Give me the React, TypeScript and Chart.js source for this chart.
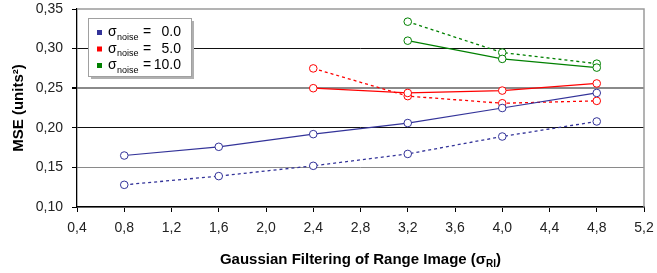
import React, { useEffect, useRef } from "react";
import { Chart, registerables } from "chart.js";
Chart.register(...registerables);

const X_NOISE0 = [0.8, 1.6, 2.4, 3.2, 4.0, 4.8];
const X_NOISE5 = [2.4, 3.2, 4.0, 4.8];
const X_NOISE10 = [3.2, 4.0, 4.8];
const noise0Solid = [0.165, 0.176, 0.192, 0.206, 0.225, 0.244];
const noise0Dotted = [0.128, 0.139, 0.152, 0.167, 0.189, 0.208];
const noise5Solid = [0.25, 0.244, 0.247, 0.256];
const noise5Dotted = [0.275, 0.24, 0.231, 0.234];
const noise10Solid = [0.31, 0.287, 0.276];
const noise10Dotted = [0.334, 0.295, 0.281];
const legendValues = ["0.0", "5.0", "10.0"];
const COLORS = ["#333399", "#FF0000", "#008000"];
const Y_TITLE = "MSE (units²)";
const X_TITLE = "Gaussian Filtering of Range Image (σ";
const X_TITLE_SUB = "RI";

const FONT = "'Liberation Sans', Arial, sans-serif";

const pts = (xs: number[], ys: number[]) => xs.map((x, i) => ({ x, y: ys[i] }));

const mk = (xs: number[], ys: number[], color: string, dotted: boolean) => ({
  data: pts(xs, ys),
  borderColor: color,
  backgroundColor: "#ffffff",
  borderWidth: dotted ? 1.3 : 1.2,
  borderDash: dotted ? [3, 3] : [],
  pointRadius: 3.8,
  pointBorderWidth: 1,
  pointBackgroundColor: "#ffffff",
  pointBorderColor: color,
  showLine: true,
  tension: 0,
});

const decorPlugin = {
  id: "decor",
  beforeDatasetsDraw(chart: any) {
    const { ctx, chartArea: a } = chart;
    ctx.save();
    ctx.strokeStyle = "#9a9a9a";
    ctx.lineWidth = 1.5;
    ctx.beginPath();
    ctx.moveTo(a.left, a.top);
    ctx.lineTo(a.right, a.top);
    ctx.lineTo(a.right, a.bottom);
    ctx.stroke();
    ctx.restore();
  },
  afterDraw(chart: any) {
    const { ctx, chartArea: a } = chart;
    ctx.save();
    ctx.fillStyle = "#000";
    ctx.font = `bold 15px ${FONT}`;
    ctx.textAlign = "center";
    ctx.textBaseline = "middle";
    ctx.translate(19, (a.top + a.bottom) / 2);
    ctx.rotate(-Math.PI / 2);
    ctx.fillText(Y_TITLE, 0, 0);
    ctx.restore();

    ctx.save();
    ctx.fillStyle = "#000";
    ctx.textBaseline = "alphabetic";
    ctx.textAlign = "left";
    const mainFont = `bold 15px ${FONT}`;
    const subFont = `bold 10px ${FONT}`;
    ctx.font = mainFont;
    const w1 = ctx.measureText(X_TITLE).width;
    ctx.font = subFont;
    const w2 = ctx.measureText(X_TITLE_SUB).width;
    ctx.font = mainFont;
    const w3 = ctx.measureText(")").width;
    const total = w1 + w2 + w3;
    const x0 = (a.left + a.right) / 2 - total / 2;
    const by = 264;
    ctx.fillText(X_TITLE, x0, by);
    ctx.font = subFont;
    ctx.fillText(X_TITLE_SUB, x0 + w1, by + 3);
    ctx.font = mainFont;
    ctx.fillText(")", x0 + w1 + w2, by);
    ctx.restore();

    ctx.save();
    const lx = 88, ly = 18, lw = 103, lh = 58;
    ctx.fillStyle = "#b0b0b0";
    ctx.fillRect(lx + 3, ly + 3, lw, lh);
    ctx.fillStyle = "#ffffff";
    ctx.fillRect(lx, ly, lw, lh);
    ctx.strokeStyle = "#a0a0a0";
    ctx.lineWidth = 1;
    ctx.strokeRect(lx + 0.5, ly + 0.5, lw, lh);
    const rows = [32.5, 49, 65.5];
    rows.forEach((cy, i) => {
      ctx.fillStyle = COLORS[i];
      ctx.fillRect(97, cy - 2.5, 5, 5);
      ctx.fillStyle = "#000";
      ctx.textBaseline = "middle";
      ctx.textAlign = "left";
      ctx.font = `14px ${FONT}`;
      ctx.fillText("σ", 108, cy);
      ctx.font = `9px ${FONT}`;
      ctx.fillText("noise", 117, cy + 5);
      ctx.font = `14px ${FONT}`;
      ctx.fillText("=", 143, cy);
      ctx.textAlign = "right";
      ctx.fillText(legendValues[i], 181, cy);
    });
    ctx.restore();
  },
};

export default function App() {
  const ref = useRef<HTMLCanvasElement>(null);
  useEffect(() => {
    if (!ref.current) return;
    const chart = new Chart(ref.current, {
      type: "scatter",
      data: {
        datasets: [
          mk(X_NOISE0, noise0Solid, COLORS[0], false),
          mk(X_NOISE0, noise0Dotted, COLORS[0], true),
          mk(X_NOISE5, noise5Solid, COLORS[1], false),
          mk(X_NOISE5, noise5Dotted, COLORS[1], true),
          mk(X_NOISE10, noise10Solid, COLORS[2], false),
          mk(X_NOISE10, noise10Dotted, COLORS[2], true),
        ] as any,
      },
      options: {
        animation: false,
        responsive: false,
        maintainAspectRatio: false,
        layout: { padding: { left: 0, right: 13, top: 9, bottom: 0 } },
        plugins: { legend: { display: false }, tooltip: { enabled: false }, title: { display: false } },
        scales: {
          x: {
            type: "linear",
            min: 0.4,
            max: 5.2,
            afterFit: (s: any) => { s.height = 66; s.paddingLeft = 0; s.paddingRight = 0; },
            ticks: {
              stepSize: 0.4,
              padding: 8,
              color: "#222",
              font: { family: FONT, size: 14 },
              callback: (v: any) => Number(v).toFixed(1).replace(".", ","),
            },
            grid: { drawOnChartArea: false, drawTicks: true, tickLength: 5, tickColor: "#000" },
            border: { color: "#000", width: 1.3 },
          },
          y: {
            type: "linear",
            min: 0.1,
            max: 0.35,
            afterFit: (s: any) => { s.width = 77; s.paddingTop = 0; s.paddingBottom = 0; },
            ticks: {
              stepSize: 0.05,
              padding: 9,
              color: "#222",
              font: { family: FONT, size: 14 },
              callback: (v: any) => Number(v).toFixed(2).replace(".", ","),
            },
            grid: {
              drawTicks: true,
              tickLength: 5,
              tickColor: "#000",
              color: (c: any) => {
                const v = Math.round((c.tick?.value ?? 0) * 100);
                if (v === 30 || v === 20) return "#111";
                if (v === 35) return "rgba(0,0,0,0)";
                return "#8a8a8a";
              },
              lineWidth: (c: any) => {
                const v = Math.round((c.tick?.value ?? 0) * 100);
                if (v === 25) return 2;
                return 1;
              },
            },
            border: { color: "#000", width: 1.3 },
          },
        },
      } as any,
      plugins: [decorPlugin],
    });
    return () => chart.destroy();
  }, []);
  return (
    <div style={{ position: "fixed", left: 0, top: 0, width: 657, height: 273, background: "#fff" }}>
      <canvas ref={ref} width={657} height={273} style={{ width: 657, height: 273 }} />
    </div>
  );
}
